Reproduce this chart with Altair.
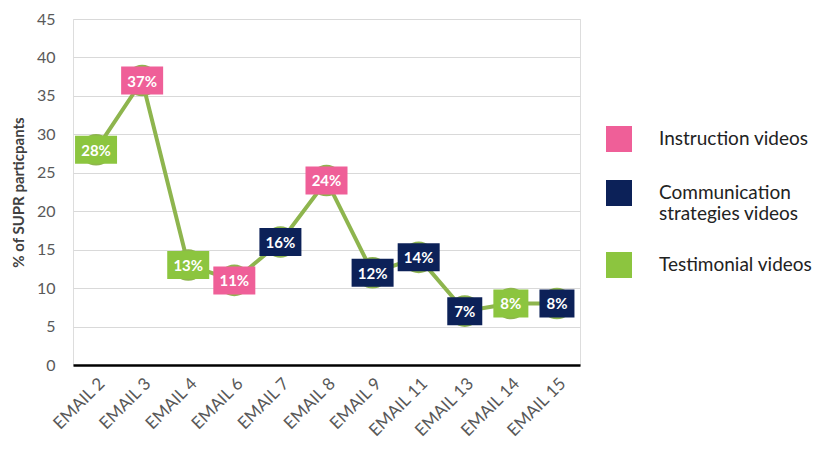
import altair as alt
import pandas as pd

emails = ["EMAIL 2", "EMAIL 3", "EMAIL 4", "EMAIL 6", "EMAIL 7", "EMAIL 8",
          "EMAIL 9", "EMAIL 11", "EMAIL 13", "EMAIL 14", "EMAIL 15"]
values = [28, 37, 13, 11, 16, 24, 12, 14, 7, 8, 8]
types = ["Testimonial videos", "Instruction videos", "Testimonial videos",
         "Instruction videos", "Communication strategies videos", "Instruction videos",
         "Communication strategies videos", "Communication strategies videos",
         "Communication strategies videos", "Testimonial videos",
         "Communication strategies videos"]
labels = [f"{v}%" for v in values]

type_order = ["Instruction videos", "Communication strategies videos", "Testimonial videos"]
type_colors = ["#EF5F98", "#0C2158", "#8CC53F"]
line_color = "#8EB54E"

df = pd.DataFrame({
    "email": emails,
    "value": values,
    "type": types,
    "label": labels,
    "digits": [str(len(str(v))) for v in values],
})

x = alt.X("email:N", sort=emails,
          scale=alt.Scale(type="point", padding=0.5),
          axis=alt.Axis(title=None, labelAngle=-45, labelFontSize=17,
                        labelColor="#595959", labelFont="Lato",
                        labelPadding=10, ticks=False, domain=True,
                        domainColor="#000000", domainWidth=2.5, grid=False))
y = alt.Y("value:Q",
          scale=alt.Scale(domain=[0, 45], nice=False),
          axis=alt.Axis(title="% of SUPR particpants", values=list(range(0, 50, 5)),
                        labelFontSize=16, labelColor="#595959", labelFont="Lato",
                        labelPadding=18, ticks=False, domain=False,
                        grid=True, gridColor="#D9D9D9", gridWidth=1,
                        titleFont="Lato", titleFontSize=15, titleFontWeight="bold",
                        titleColor="#404040", titleX=-55, titleY=173,
                        titleAlign="center", titleBaseline="middle", titleAngle=-90))

base = alt.Chart(df).encode(x=x, y=y)

line = base.mark_line(color=line_color, strokeWidth=4)
dots = base.mark_circle(color=line_color, size=1000, opacity=1)

path2 = "M-1.5,-1H1.5V1H-1.5Z"
path1 = "M-1.25,-1H1.25V1H-1.25Z"

boxes = base.mark_point(filled=True, opacity=1, size=784, strokeWidth=0).encode(
    color=alt.Color("type:N",
                    scale=alt.Scale(domain=type_order, range=type_colors),
                    legend=alt.Legend(title=None, orient="none", legendX=533, legendY=107,
                                      symbolType="square", symbolSize=676,
                                      symbolStrokeWidth=0, symbolOpacity=1,
                                      labelFont="Lato", labelFontSize=19,
                                      labelColor="#222222", labelOffset=27,
                                      labelLimit=300, rowPadding=28,
                                      labelExpr="datum.label == 'Communication strategies videos' ? ['Communication', 'strategies videos'] : datum.label")),
    shape=alt.Shape("digits:N", scale=alt.Scale(domain=["2", "1"], range=[path2, path1]),
                    legend=None),
)

texts = base.mark_text(color="white", font="Lato", fontSize=15, fontWeight="bold",
                       baseline="middle", dy=1).encode(text="label:N")

chart = alt.layer(line, dots, boxes, texts).properties(
    width=507, height=346,
    autosize=alt.AutoSizeParams(type="none"),
    padding={"left": 65, "top": 11, "right": 238, "bottom": 80},
).configure_view(stroke=None).configure(background="white")

chart.save("out.html", embed_options={"renderer": "svg", "actions": False})
